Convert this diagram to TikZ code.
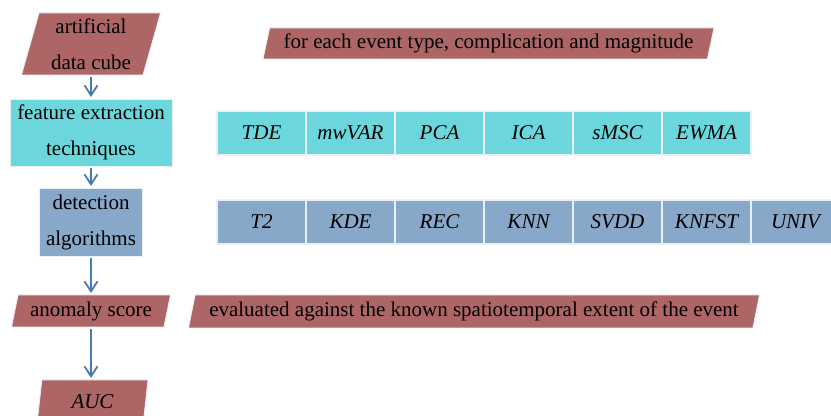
\documentclass[tikz,border=0pt]{standalone}
\usepackage{fontspec}
\setmainfont{Liberation Serif}
\usetikzlibrary{shapes.geometric, arrows.meta, positioning}
\definecolor{datacolor}{RGB}{173,102,101}
\definecolor{featcolor}{RGB}{107,215,220}
\definecolor{detcolor}{RGB}{136,168,201}
\definecolor{arrowcolor}{RGB}{72,122,178}
\definecolor{edgecolor}{RGB}{235,240,245}

\begin{document}
\begin{tikzpicture}[x=0.5pt, y=-0.5pt,
  % Node styles
  databox/.style={
    trapezium,
    trapezium left angle=71,
    trapezium right angle=109,
    trapezium stretches body,
    draw=edgecolor,
    line width=0.4pt,
    fill=datacolor,
    align=center,
    inner sep=0pt,
    outer sep=0pt,
    font=\fontsize{10.5}{18}\selectfont
  },
  stepbox/.style={
    rectangle,
    draw=edgecolor,
    line width=0.4pt,
    align=center,
    inner sep=1pt,
    outer sep=0pt,
    font=\fontsize{10.5}{18}\selectfont
  },
  featcell/.style={
    rectangle,
    draw=edgecolor,
    line width=0.6pt,
    fill=featcolor,
    minimum width=44.5pt,
    minimum height=22pt,
    inner sep=0pt,
    outer sep=0pt,
    font=\fontsize{10.5}{12}\selectfont\itshape
  },
  detcell/.style={
    featcell,
    fill=detcolor
  },
  flow/.style={
    -{Straight Barb[length=5pt, width=6.5pt]},
    line width=0.9pt,
    draw=arrowcolor,
    shorten <=1pt,
    shorten >=1pt
  }
]
\useasboundingbox (0,0) rectangle (831,416);

% ===== MAIN COLUMN =====
\node[databox, minimum width=69.5pt, minimum height=31pt] (cube) at (91,44) {artificial\\data cube};

\node[stepbox, fill=featcolor, minimum width=81pt, minimum height=33.5pt] (feat) at (91,132.5) {feature extraction\\techniques};

\node[stepbox, fill=detcolor, minimum width=51.5pt, minimum height=34pt] (det) at (91,222) {detection\\algorithms};

\node[databox, minimum width=79.5pt, minimum height=16pt] (score) at (91,311) {anomaly score};

\node[databox, minimum width=55.5pt, minimum height=22pt] (auc) at (92.5,402) {\itshape AUC};

% ===== BANNERS =====
\node[databox, minimum width=225.5pt, minimum height=15.5pt] (loop) at (488.5,43.5) {for each event type, complication and magnitude};

\node[databox, minimum width=285.5pt, minimum height=16.5pt] (eval) at (474,311.5) {evaluated against the known spatiotemporal extent of the event};

% ===== FEATURE EXTRACTION TECHNIQUES =====
\node[featcell] (tde) at (261.5,133) {TDE};
\node[featcell, right=0pt of tde] (mwvar) {mwVAR};
\node[featcell, right=0pt of mwvar] (pca) {PCA};
\node[featcell, right=0pt of pca] (ica) {ICA};
\node[featcell, right=0pt of ica] (smsc) {sMSC};
\node[featcell, right=0pt of smsc] (ewma) {EWMA};

% ===== DETECTION ALGORITHMS =====
\node[detcell] (t2) at (261.5,222) {T2};
\node[detcell, right=0pt of t2] (kde) {KDE};
\node[detcell, right=0pt of kde] (rec) {REC};
\node[detcell, right=0pt of rec] (knn) {KNN};
\node[detcell, right=0pt of knn] (svdd) {SVDD};
\node[detcell, right=0pt of svdd] (knfst) {KNFST};
\node[detcell, right=0pt of knfst] (univ) {UNIV};

% ===== ARROWS =====
\draw[flow] (feat.north |- cube.south) -- (feat.north);
\draw[flow] (feat.south) -- (det.north);
\draw[flow] (det.south) -- (det.south |- score.north);
\draw[flow] (det.south |- score.south) -- (det.south |- auc.north);

\end{tikzpicture}
\end{document}
